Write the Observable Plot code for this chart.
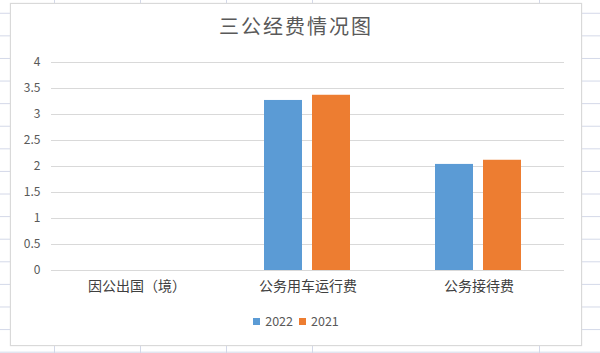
<!DOCTYPE html>
<html><head><meta charset="utf-8">
<script src="https://cdn.jsdelivr.net/npm/d3@7"></script>
<script src="https://cdn.jsdelivr.net/npm/@observablehq/plot@0.6"></script>
<style>
html,body{margin:0;padding:0}
body{width:600px;height:353px;overflow:hidden;position:relative;background:#fff;font-family:"Noto Sans CJK SC","Noto Sans",sans-serif}
#bg{position:absolute;left:0;top:0;width:600px;height:353px;
  background-image:repeating-linear-gradient(to bottom, transparent 0, transparent 12.6px, #d3d8e8 12.6px, #d3d8e8 13.6px, transparent 13.6px, transparent 22.6px);
  background-size:600px 22.6px;}
.vl{position:absolute;top:0;width:1px;height:353px;background:#d3d8e8}
#box{position:absolute;left:10px;top:3px;width:570px;height:341px;background:#fff;border:1px solid #d9d9d9;box-shadow:0 0 1px #ddd}
#title{position:absolute;left:0;width:592px;top:13px;text-align:center;font-size:20px;letter-spacing:2px;color:#595959;line-height:26px}
#chart{position:absolute;left:0;top:45px}
#chart g[aria-label^="fx-axis"] text{font-size:14px;fill:#404040}
#chart g[aria-label^="y-axis"] text{font-size:12px;fill:#595959}
#legend{position:absolute;left:0;width:592px;top:313px;text-align:center;font-size:12.5px;color:#595959;line-height:16px}
#legend span.sw{display:inline-block;width:7px;height:7px;margin-right:5px;vertical-align:1px}
#legend span.it{margin:0 3px}
</style></head><body>
<div id="bg"></div>
<div id="vlines"></div>
<div id="box"></div>
<div id="title">三公经费情况图</div>
<div id="chart"></div>
<div id="legend"></div>
<script>
const categories = ["因公出国（境）", "公务用车运行费", "公务接待费"];
const seriesNames = ["2022", "2021"];
const values2022 = [null, 3.27, 2.04];
const values2021 = [null, 3.37, 2.12];
const yTicks = [0, 0.5, 1, 1.5, 2, 2.5, 3, 3.5, 4];
const seriesColors = ["#5b9bd5", "#ed7d31"];

// decorative spreadsheet column lines
[54, 140, 226, 312, 539].forEach(x => {
  const d = document.createElement("div");
  d.className = "vl"; d.style.left = x + "px";
  document.getElementById("vlines").appendChild(d);
});

const data = categories.flatMap((c, i) => [
  {category: c, year: seriesNames[0], value: values2022[i]},
  {category: c, year: seriesNames[1], value: values2021[i]}
]);

const plot = Plot.plot({
  width: 600, height: 260,
  marginTop: 17, marginBottom: 35, marginLeft: 50, marginRight: 36,
  style: {fontFamily: '"Noto Sans CJK SC","Noto Sans",sans-serif', fontSize: "12px", background: "transparent", color: "#595959"},
  facet: {data, x: "category"},
  fx: {domain: categories, padding: 0, label: null, axis: "bottom", tickSize: 0, tickPadding: 11},
  x: {domain: seriesNames, paddingInner: 0.204, paddingOuter: 0.847, axis: null},
  y: {domain: [0, 4], ticks: yTicks, tickSize: 0, tickPadding: 11, label: null, tickFormat: d => String(d)},
  color: {domain: seriesNames, range: seriesColors},
  marks: [
    Plot.ruleY(yTicks, {stroke: "#d9d9d9", strokeWidth: 1}),
    Plot.barY(data, {x: "year", y: "value", fill: "year"})
  ]
});
document.getElementById("chart").appendChild(plot);

const legend = document.getElementById("legend");
seriesNames.forEach((s, i) => {
  const it = document.createElement("span");
  it.className = "it";
  it.innerHTML = `<span class="sw" style="background:${seriesColors[i]}"></span>${s}`;
  legend.appendChild(it);
});
</script>
</body></html>
